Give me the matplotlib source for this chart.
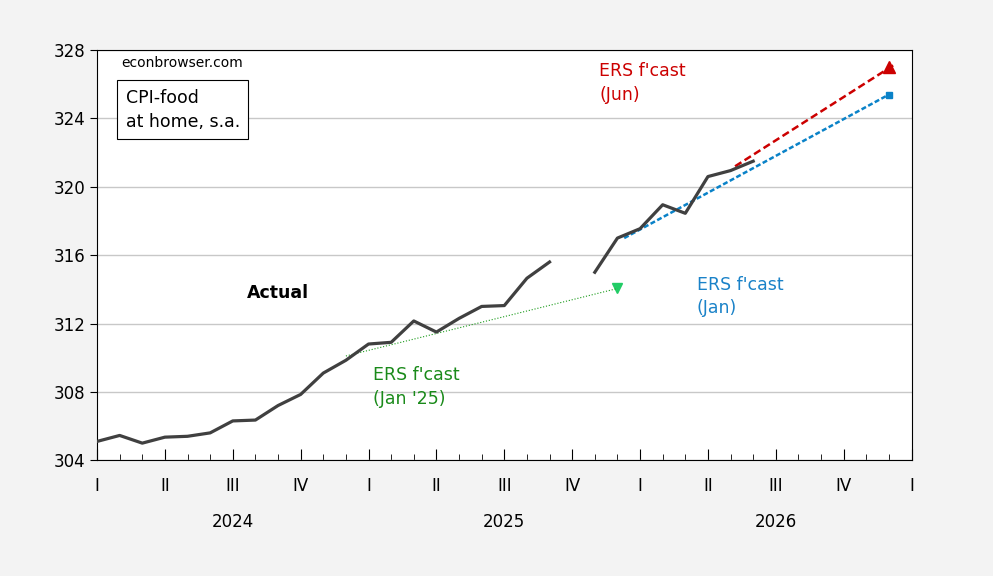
import numpy as np
import matplotlib
matplotlib.use('Agg')
import matplotlib.pyplot as plt

# month index: 0 = Jan 2024
actual_m = list(range(0, 21)) + list(range(22, 30))
actual_v = [305.1, 305.45, 305.0, 305.35, 305.4, 305.6, 306.3, 306.35, 307.2, 307.85,
            309.1, 309.85, 310.8, 310.9, 312.15, 311.5, 312.3, 313.0, 313.05, 314.65,
            315.6,
            315.0, 317.0, 317.55, 318.95, 318.45, 320.6, 320.95, 321.5]
jan25_m = [11, 23]
jan25_v = [310.1, 314.05]
jan26_m = [23.3, 35]
jan26_v = [317.0, 325.4]
jun26_m = [28.2, 35.3]
jun26_v = [321.2, 327.2]
quarters = ['I', 'II', 'III', 'IV'] * 3 + ['I']
years = ['2024', '2025', '2026']

fig = plt.figure(figsize=(9.93, 5.76), dpi=100)
fig.patch.set_facecolor('#f3f3f3')
ax = fig.add_axes([0.0977, 0.201, 0.8203, 0.712])
ax.set_facecolor('white')

# split actual series at the missing month
m = np.array(actual_m)
v = np.array(actual_v)
brk = np.where(np.diff(m) > 1)[0][0] + 1
ax.plot(m[:brk], v[:brk], color='#404040', lw=2.3, zorder=4)
ax.plot(m[brk:], v[brk:], color='#404040', lw=2.3, zorder=4)

ax.plot(jan25_m, jan25_v, color='#1a9a1a', lw=0.8, ls=':', zorder=3)
ax.plot(jan25_m[-1], jan25_v[-1], marker='v', color='#22cc66', ms=7, ls='none')
ax.plot(jan26_m, jan26_v, color='#0a82c8', lw=1.8, ls=(0, (2, 1)), zorder=3)
ax.plot(jan26_m[-1], jan26_v[-1], marker='s', color='#0a82c8', ms=5, ls='none')
ax.plot(jun26_m, jun26_v, color='#cc0000', lw=1.8, ls=(0, (3, 1.5)), zorder=3)
ax.plot(35, 327.0, marker='^', color='#cc0000', ms=8, ls='none')

ax.set_xlim(0, 36)
ax.set_ylim(304, 328)
ax.set_yticks(range(304, 329, 4))
ax.yaxis.grid(True, color='#c8c8c8', lw=1)
ax.set_axisbelow(True)
ax.set_xticks(range(0, 37, 3))
ax.set_xticklabels(quarters, fontsize=12)
ax.set_xticks(range(0, 37), minor=True)
ax.tick_params(axis='x', which='major', length=8, direction='in', pad=12)
ax.tick_params(axis='x', which='minor', length=4, direction='in')
ax.tick_params(axis='y', labelsize=12, length=5)
for i, y in enumerate(years):
    ax.text(6 + 12 * i, -0.15, y, transform=ax.get_xaxis_transform(),
            ha='center', va='center', fontsize=12)

ax.text(0.03, 0.985, 'econbrowser.com', transform=ax.transAxes, fontsize=10, va='top')
ax.text(0.035, 0.905, 'CPI-food\nat home, s.a.', transform=ax.transAxes, fontsize=12.5,
        va='top', linespacing=1.4,
        bbox=dict(boxstyle='square,pad=0.5', fc='white', ec='black', lw=0.8))
ax.text(8, 313.5, 'Actual', fontsize=12.5, fontweight='bold', ha='center')
ax.text(12.2, 307.3, "ERS f'cast\n(Jan '25)", fontsize=12.5, color='#1a8a1a', linespacing=1.4)
ax.text(26.5, 312.6, "ERS f'cast\n(Jan)", fontsize=12.5, color='#1a82c8', linespacing=1.4)
ax.text(22.2, 325.1, "ERS f'cast\n(Jun)", fontsize=12.5, color='#cc0000', linespacing=1.4)

fig.savefig('out.png', dpi=100, facecolor=fig.get_facecolor())
